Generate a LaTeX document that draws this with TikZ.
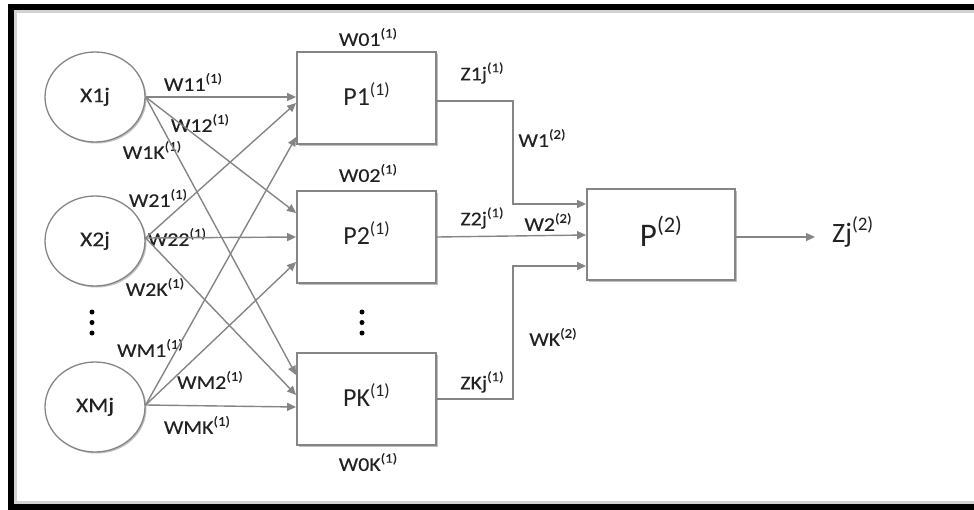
\documentclass[tikz,border=0pt]{standalone}
\usepackage{fontspec}
\setmainfont{Carlito}
\newfontfamily\widefont[FakeStretch=1.12,FakeBold=0.15]{Carlito}
\usetikzlibrary{shapes.geometric,arrows.meta,shadows}
\definecolor{ln}{HTML}{858585}
\definecolor{tx}{HTML}{222222}
\makeatletter
\newcommand\supx[1]{\raisebox{0.42em}{\fontsize{0.68\dimexpr\f@size pt\relax}{1em}\selectfont(#1)}}
\makeatother
\begin{document}
\begin{tikzpicture}[x=1pt,y=-1pt,
  font=\widefont\fontsize{19.5}{21}\selectfont, text=tx,
  shad/.style={drop shadow={shadow xshift=1.5pt, shadow yshift=-1.5pt, opacity=.25, fill=black}},
  inp/.style={ellipse, draw=ln, line width=1.3pt, minimum width=100pt, minimum height=90pt, inner sep=0pt, fill=white, font=\widefont\fontsize{21}{23}\selectfont, shad},
  pbox/.style={rectangle, draw=ln, line width=1.8pt, minimum width=139pt, minimum height=92pt, inner sep=0pt, fill=white, font=\rmfamily\fontsize{26}{28}\selectfont, shad},
  lab/.style={inner sep=0pt},
  con/.style={draw=ln, line width=1.4pt, -{Triangle[length=9pt,width=8pt]}},
  blob/.style={circle, fill=black, inner sep=0pt, minimum size=5pt}
]
\useasboundingbox (0,0) rectangle (974,509);
% frame
\draw[gray!35, line width=3pt] (974,11.5) -- (15.5,11.5) -- (15.5,502) -- (974,502);
\draw[black, line width=6pt] (974,7) -- (11,7) -- (11,506.5) -- (974,506.5);

% input nodes
\node[inp] (X1) at (95,97) {\raisebox{4pt}{X1j}};
\node[inp] (X2) at (95,241) {\raisebox{4pt}{X2j}};
\node[inp] (XM) at (95,407) {\raisebox{4pt}{XMj}};
\node[blob] (dl1) at (92,312) {};
\node[blob] (dl2) at (92,322.5) {};
\node[blob] (dl3) at (92,333) {};

% hidden units
\node[pbox] (P1) at (366.5,98) {\raisebox{8pt}{P1\supx1}};
\node[pbox] (P2) at (366.5,237) {\raisebox{8pt}{P2\supx1}};
\node[pbox] (PK) at (366.5,399) {\raisebox{8pt}{PK\supx1}};
\node[blob] (dm1) at (362,312) {};
\node[blob] (dm2) at (362,322.5) {};
\node[blob] (dm3) at (362,333) {};

% output unit
\node[pbox, minimum width=148pt, minimum height=91pt, font=\rmfamily\fontsize{33}{36}\selectfont] (PO) at (661,234.5) {\raisebox{7pt}{P\supx2}};
\node[lab, anchor=west, font=\rmfamily\fontsize{28}{30}\selectfont] (ZJ) at (832,232) {Zj\supx2};
\coordinate (zend) at (815,237);

% labels
\node[lab] (w11) at (193,82) {W11\supx1};
\node[lab] (w12) at (200,123) {W12\supx1};
\node[lab] (w1k) at (152,150) {W1K\supx1};
\node[lab] (w21) at (158,198) {W21\supx1};
\node[lab] (w22) at (177,237) {W22\supx1};
\node[lab] (w2k) at (155,287) {W2K\supx1};
\node[lab] (wm1) at (150,348) {WM1\supx1};
\node[lab] (wm2) at (210,380) {WM2\supx1};
\node[lab] (wmk) at (197,425) {WMK\supx1};
\node[lab] (w01) at (368,37) {W01\supx1};
\node[lab] (w02) at (368,173) {W02\supx1};
\node[lab] (w0k) at (368,462) {W0K\supx1};
\node[lab] (z1j) at (482,73) {Z1j\supx1};
\node[lab] (z2j) at (482,218) {Z2j\supx1};
\node[lab] (zkj) at (482,382) {ZKj\supx1};
\node[lab] (v1) at (542,138) {W1\supx2};
\node[lab] (v2) at (548,222) {W2\supx2};
\node[lab] (vk) at (553,337) {WK\supx2};

% first-layer connectors
\draw[con] (X1.east) -- ([yshift=1pt]P1.west);
\draw[con] (X1.east) -- ([yshift=24pt]P2.west);
\draw[con] (X1.east) -- ([yshift=24pt]PK.west);
\draw[con] ([yshift=3pt]X2.east) -- ([yshift=-5pt]P1.west);
\draw[con] ([yshift=3pt]X2.east) -- ([yshift=0pt]P2.west);
\draw[con] ([yshift=3pt]X2.east) -- ([yshift=4pt]PK.west);
\draw[con] ([yshift=2pt]XM.east) -- ([yshift=-39pt]P1.west);
\draw[con] ([yshift=2pt]XM.east) -- ([yshift=-25pt]P2.west);
\draw[con] ([yshift=2pt]XM.east) -- ([yshift=-8pt]PK.west);

% second-layer connectors
\draw[con] ([yshift=-3pt]P1.east) -- ++(76,0) |- ([yshift=30.5pt]PO.west);
\draw[con] (P2.east) -- ([yshift=-0.5pt]PO.west);
\draw[con] (PK.east) -- ++(76,0) |- ([yshift=-31.5pt]PO.west);
\draw[con] ([yshift=-2.5pt]PO.east) -- (zend);
\end{tikzpicture}
\end{document}
